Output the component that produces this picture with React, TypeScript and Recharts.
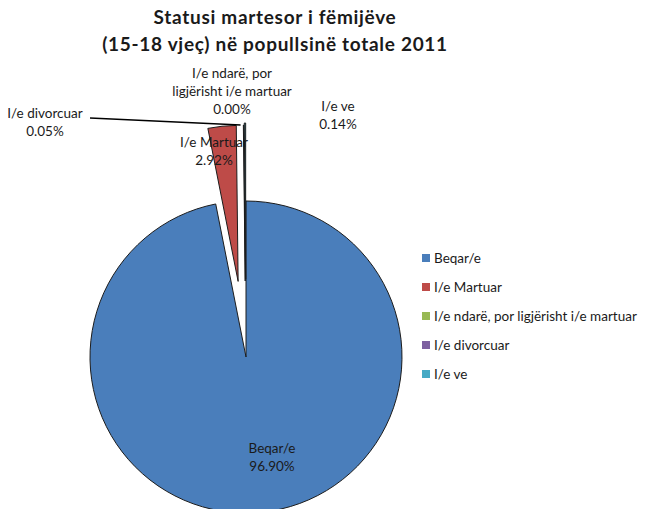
import React from "react";
import { PieChart, Pie, Cell, Legend } from "recharts";

const categories = [
  "Beqar/e",
  "I/e Martuar",
  "I/e ndarë, por ligjërisht i/e martuar",
  "I/e divorcuar",
  "I/e ve",
];
const shares = [96.9, 2.92, 0.0, 0.05, 0.14];
const sliceColors = ["#4a7ebb", "#be4b48", "#98b954", "#7d60a0", "#46aac5"];
// how the data labels wrap on the chart
const labelNameLines = [
  ["Beqar/e"],
  ["I/e Martuar"],
  ["I/e ndarë, por", "ligjërisht i/e martuar"],
  ["I/e divorcuar"],
  ["I/e ve"],
];
const titleLines = ["Statusi martesor i fëmijëve", "(15-18 vjeç) në popullsinë totale 2011"];

// layout
const W = 645;
const H = 509;
const CX = 241;
const CY = 352;
const R = 156;
const explode = [0, 76, 76, 76, 78];
const labelAt = [
  [272, 448],
  [214, 142],
  [232, 73],
  [45, 113],
  [338, 106],
];
const FONT = "Lato, 'Open Sans', sans-serif";
const RAD = Math.PI / 180;

const rows = categories.map((name, i) => ({ name, value: shares[i] }));
const total = shares.reduce((a, b) => a + b, 0);

function midFraction(i: number) {
  const before = shares.slice(0, i).reduce((a, b) => a + b, 0);
  return (before + shares[i] / 2) / total;
}

function makeLabel(i: number) {
  return (p: any) => {
    if (p.index !== i) return null;
    const [x, y] = labelAt[i];
    const lines = [...labelNameLines[i], shares[i].toFixed(2) + "%"];
    let leader = null;
    if (i === 3) {
      const tx = p.cx + R * Math.cos(-p.midAngle * RAD);
      const ty = p.cy + R * Math.sin(-p.midAngle * RAD);
      leader = <line x1={90} y1={118} x2={tx - 3} y2={ty} stroke="#000" strokeWidth={1.5} />;
    }
    return (
      <g>
        {leader}
        {lines.map((t, k) => (
          <text
            key={k}
            x={x}
            y={y + k * 18}
            textAnchor="middle"
            dominantBaseline="central"
            fontSize={13.5}
            fontFamily={FONT}
            fill="#1a1a1a"
          >
            {t}
          </text>
        ))}
      </g>
    );
  };
}

function LegendBox() {
  return (
    <div style={{ fontFamily: FONT, fontSize: 13.5, color: "#1a1a1a" }}>
      {categories.map((c, i) => (
        <div key={c} style={{ display: "flex", alignItems: "center", height: 29 }}>
          <span
            style={{ width: 8, height: 8, background: sliceColors[i], marginRight: 4, display: "inline-block" }}
          />
          <span style={{ whiteSpace: "nowrap" }}>{c}</span>
        </div>
      ))}
    </div>
  );
}

export default function App() {
  return (
    <div style={{ position: "absolute", left: 0, top: 0, width: W, height: H, background: "#fff", overflow: "hidden" }}>
      <div
        style={{
          position: "absolute",
          left: 0,
          top: 3,
          width: 550,
          textAlign: "center",
          fontFamily: FONT,
          fontWeight: 700,
          fontSize: 19,
          letterSpacing: 0.7,
          lineHeight: "27px",
          color: "#1a1a1a",
        }}
      >
        {titleLines.map((t) => (
          <div key={t}>{t}</div>
        ))}
      </div>
      <PieChart width={W} height={H} style={{ position: "absolute", left: 0, top: 0 }}>
        {categories.map((_, i) => {
          const a = midFraction(i) * 360 * RAD;
          const d = explode[i];
          return (
            <Pie
              key={i}
              data={rows}
              dataKey="value"
              nameKey="name"
              cx={CX + d * Math.sin(a)}
              cy={CY - d * Math.cos(a)}
              outerRadius={R}
              startAngle={90}
              endAngle={-270}
              isAnimationActive={false}
              label={makeLabel(i)}
              labelLine={false}
            >
              {rows.map((_, k) => (
                <Cell
                  key={k}
                  fill={k === i ? sliceColors[k] : "none"}
                  stroke={k === i ? "#1c1c1c" : "none"}
                  strokeWidth={1}
                />
              ))}
            </Pie>
          );
        })}
        <Legend
          layout="vertical"
          align="right"
          verticalAlign="top"
          content={() => <LegendBox />}
          wrapperStyle={{ left: 422, top: 243, width: 230, right: "auto" }}
        />
      </PieChart>
    </div>
  );
}
